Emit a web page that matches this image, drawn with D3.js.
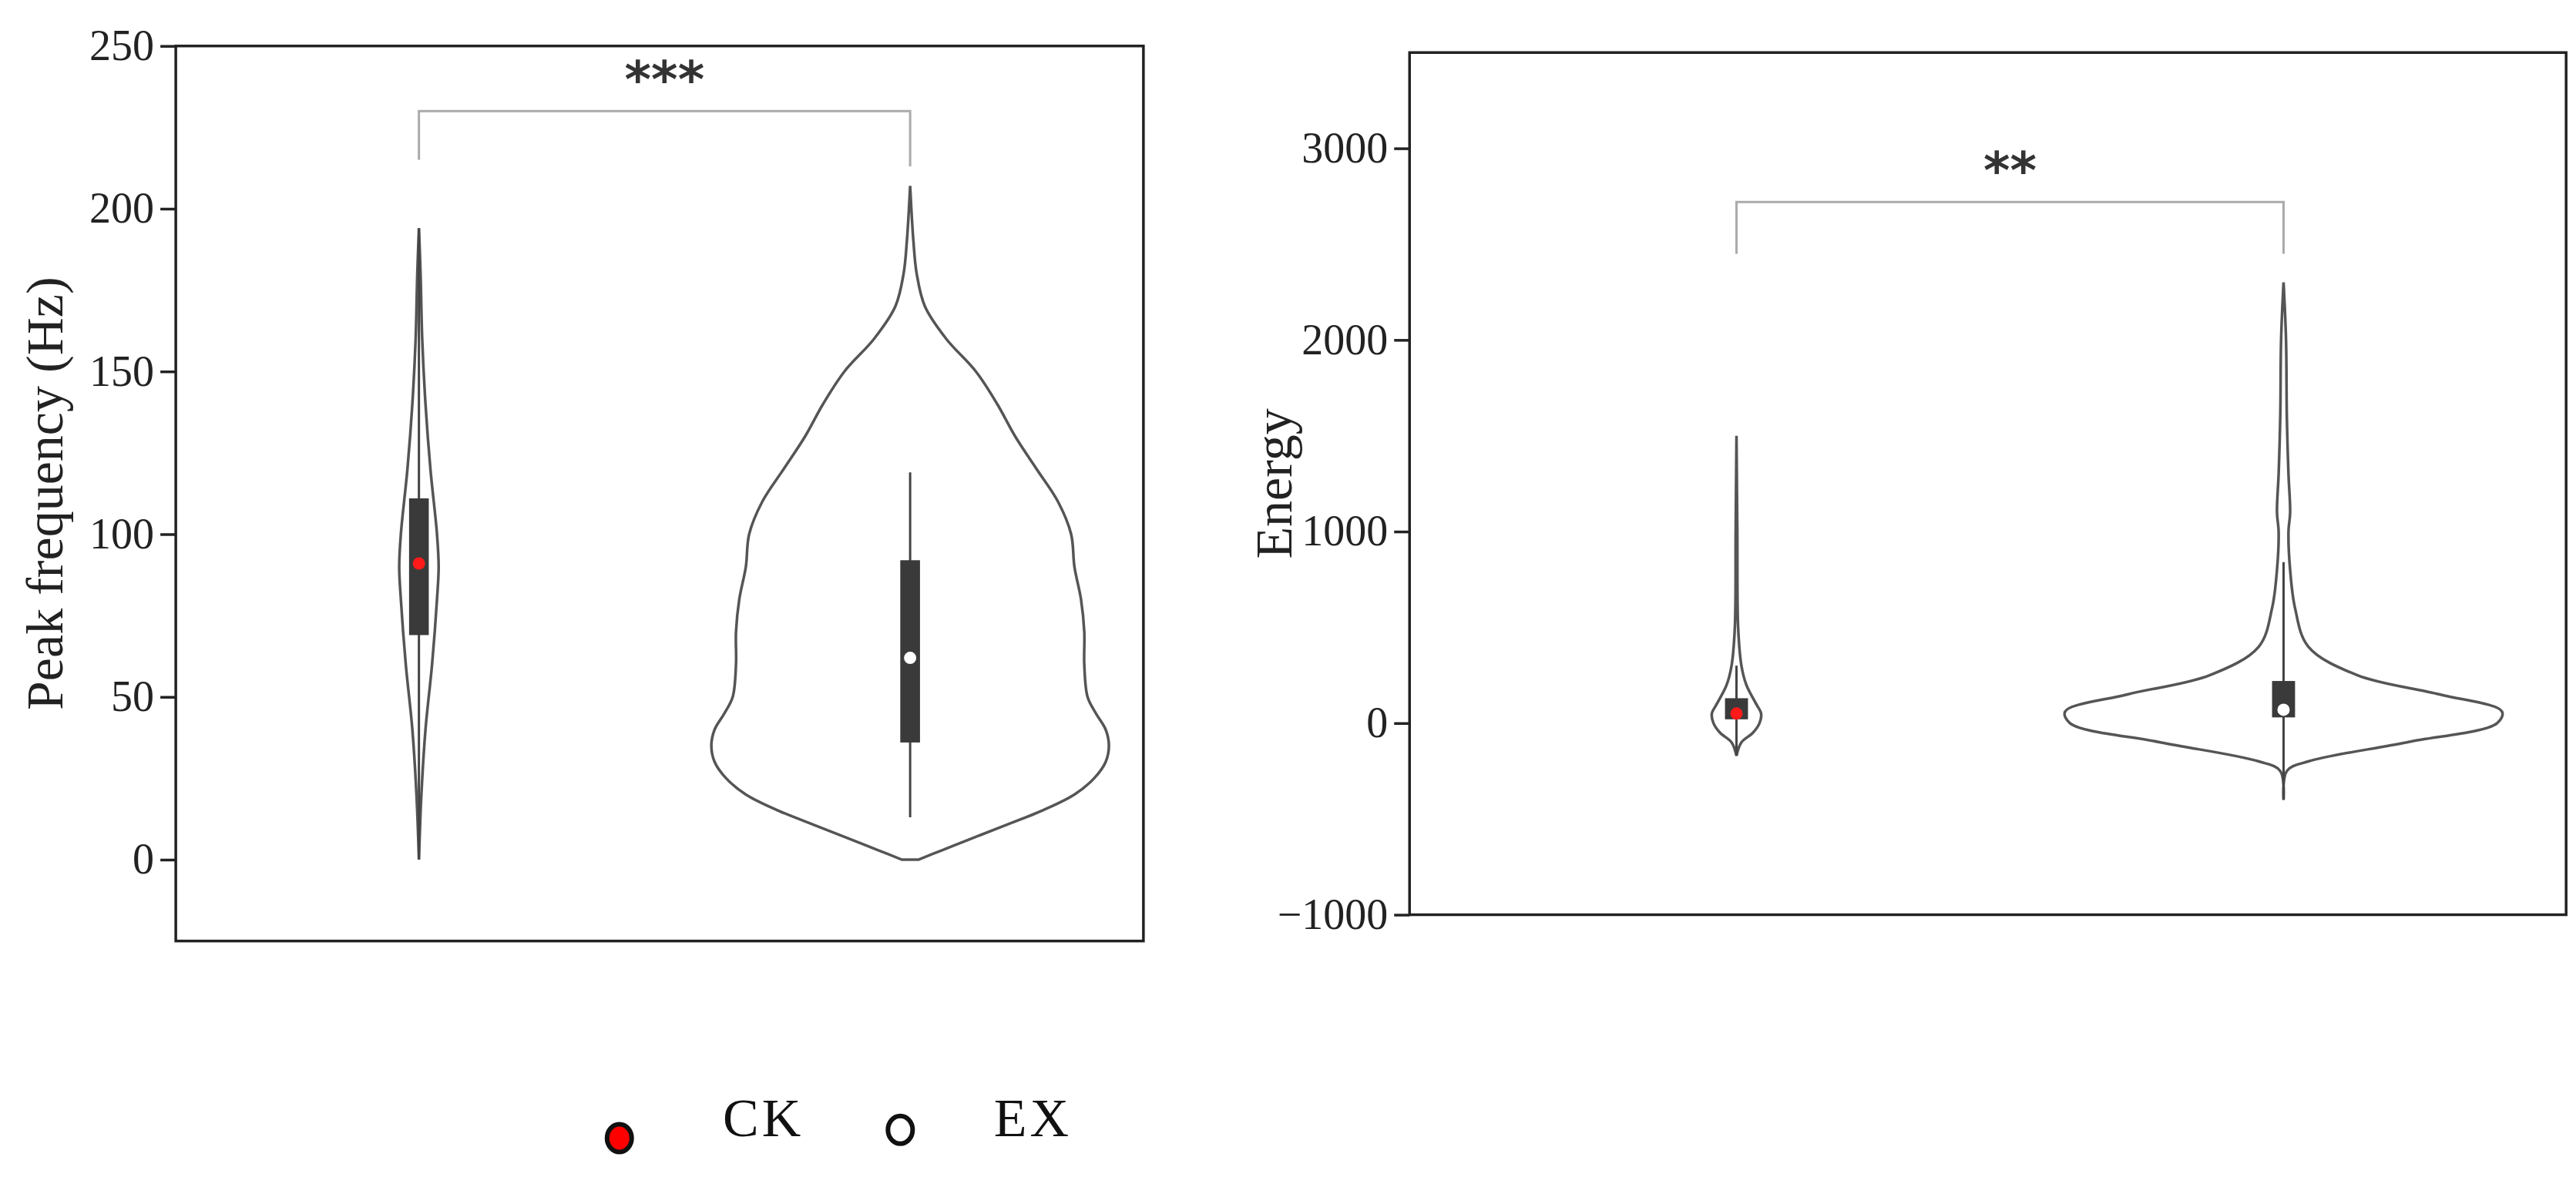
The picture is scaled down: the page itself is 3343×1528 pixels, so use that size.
<!DOCTYPE html>
<html><head><meta charset="utf-8">
<script src="https://cdn.jsdelivr.net/npm/d3@7"></script>
<style>body{margin:0;background:#fff}svg{display:block}</style>
</head><body>
<svg id="c" width="3343" height="1528"></svg>
<script>
// ---- data ----
const groups = ["CK", "EX"];
const freqTicks = [0, 50, 100, 150, 200, 250];
const energyTicks = [-1000, 0, 1000, 2000, 3000];
// violin profiles: [value, relative half-width]
const freqCKViolin = [[0,0],[20,1.5],[40,4],[60,8],[80,11],[90,12],[100,11],[120,7],[140,4],[160,2],[180,1],[194,0]];
const freqEXViolin = [[0,5],[3,20],[6,35],[10,55],[15,80],[20,100],[25,112],[30,119],[35,121],[40,119],[45,113],[50,108],[60,106],[70,106],[80,104],[90,100],[100,98],[110,90],[120,77],[130,64],[140,53],[150,40],[160,22],[170,9],[180,4],[190,2],[207,0]];
const energyCKViolin = [[-170,0],[-100,3],[-50,10],[0,14],[50,15],[100,12],[200,6],[300,3],[500,1],[1000,0.5],[1500,0]];
const energyEXViolin = [[-400,0],[-250,2],[-200,15],[-100,75],[0,130],[60,133],[150,95],[250,45],[400,15],[600,7],[800,4],[1000,3],[1100,4],[1300,3],[1600,2],[2000,1.5],[2300,0]];
// box stats: [whiskerLow, q1, median, q3, whiskerHigh]
const freqBox = { CK: [0, 69, 91, 111, 194], EX: [13, 36, 62, 92, 119] };
const energyBox = { CK: [-170, 20, 50, 130, 300], EX: [-400, 30, 70, 220, 840] };
const freqSig = { label: "***", y: 230, legLeft: 215, legRight: 213 };
const energySig = { label: "**", y: 2720, legLeft: 2450, legRight: 2450 };

const svg = d3.select("#c");
const S = 2.132;

function panel(o) {
  const g = svg.append("g");
  const y = d3.scaleLinear().domain(o.domain).range([o.bottom, o.top]);
  const x = d3.scalePoint().domain(groups).range([o.cx[0], o.cx[1]]);
  const w = d3.scaleLinear().domain([0, 121]).range([0, 121 * S]);
  g.append("rect").attr("x", o.left).attr("y", o.top).attr("width", o.right - o.left).attr("height", o.bottom - o.top)
    .attr("fill", "none").attr("stroke", "#222").attr("stroke-width", 3.5);
  const ax = g.append("g").attr("transform", `translate(${o.left},0)`)
    .call(d3.axisLeft(y).tickValues(o.ticks).tickSize(20).tickSizeOuter(0).tickFormat(d => d < 0 ? "\u2212" + Math.abs(d) : d));
  ax.select(".domain").remove();
  ax.selectAll("line").attr("stroke", "#222").attr("stroke-width", 3.5);
  ax.selectAll("text").attr("font-family", "Liberation Serif").attr("font-size", 56).attr("fill", "#222").attr("x", -28);
  g.append("text").attr("transform", `translate(${o.labelX},${(o.top + o.bottom) / 2}) rotate(-90)`)
    .attr("text-anchor", "middle").attr("font-family", "Liberation Serif").attr("font-size", 68).attr("fill", "#222").text(o.label);
  // violins
  o.violins.forEach((v, i) => {
    const cx = x(groups[i]);
    const area = d3.area().curve(d3.curveCatmullRom).y(d => y(d[0])).x0(d => cx - w(d[1])).x1(d => cx + w(d[1]));
    g.append("path").attr("d", area(v)).attr("fill", "none").attr("stroke", "#555").attr("stroke-width", 3.5);
  });
  // boxes
  groups.forEach((k, i) => {
    const cx = x(k), b = o.box[k];
    g.append("line").attr("x1", cx).attr("x2", cx).attr("y1", y(b[0])).attr("y2", y(b[4])).attr("stroke", "#444").attr("stroke-width", 3);
    g.append("rect").attr("x", cx - o.bw / 2).attr("width", o.bw).attr("y", y(b[3])).attr("height", y(b[1]) - y(b[3])).attr("fill", "#3a3a3a");
    g.append("circle").attr("cx", cx).attr("cy", y(b[2])).attr("r", 8).attr("fill", k === "CK" ? "#ff1a1a" : "#fff");
  });
  // significance bracket
  const s = o.sig, x0 = x("CK"), x1 = x("EX");
  g.append("path").attr("d", `M${x0},${y(s.legLeft)}V${y(s.y)}H${x1}V${y(s.legRight)}`)
    .attr("fill", "none").attr("stroke", "#aaa").attr("stroke-width", 3);
  g.append("text").attr("x", (x0 + x1) / 2).attr("y", y(s.y) - 18).attr("text-anchor", "middle")
    .attr("font-family", "DejaVu Sans").attr("font-weight", "bold").attr("font-size", 66).attr("fill", "#333").text(s.label);
}

panel({ left: 107*S, right: 696*S, top: 28*S, bottom: 573*S, domain: [-25, 250], ticks: freqTicks,
  cx: [255*S, 554*S], label: "Peak frequency (Hz)", labelX: 38*S, bw: 12*S,
  violins: [freqCKViolin, freqEXViolin], box: freqBox, sig: freqSig });
panel({ left: 858*S, right: 1562*S, top: 32*S, bottom: 557*S, domain: [-1000, 3500], ticks: energyTicks,
  cx: [1057*S, 1390*S], label: "Energy", labelX: 786*S, bw: 14*S,
  violins: [energyCKViolin, energyEXViolin], box: energyBox, sig: energySig });

// legend
const lg = svg.append("g");
const legItems = [{ k: "CK", cx: 377, cy: 693, tx: 440, fill: "#ff0000" }, { k: "EX", cx: 548, cy: 688, tx: 605, fill: "#fff" }];
legItems.forEach(d => {
  lg.append("ellipse").attr("cx", d.cx * S).attr("cy", d.cy * S).attr("rx", 16).attr("ry", 18).attr("fill", d.fill).attr("stroke", "#111").attr("stroke-width", 6);
  lg.append("text").attr("x", d.tx * S).attr("y", 692 * S).attr("font-family", "Liberation Serif").attr("font-size", 70).attr("letter-spacing", 4).attr("fill", "#111").text(d.k);
});
</script>
</body></html>
